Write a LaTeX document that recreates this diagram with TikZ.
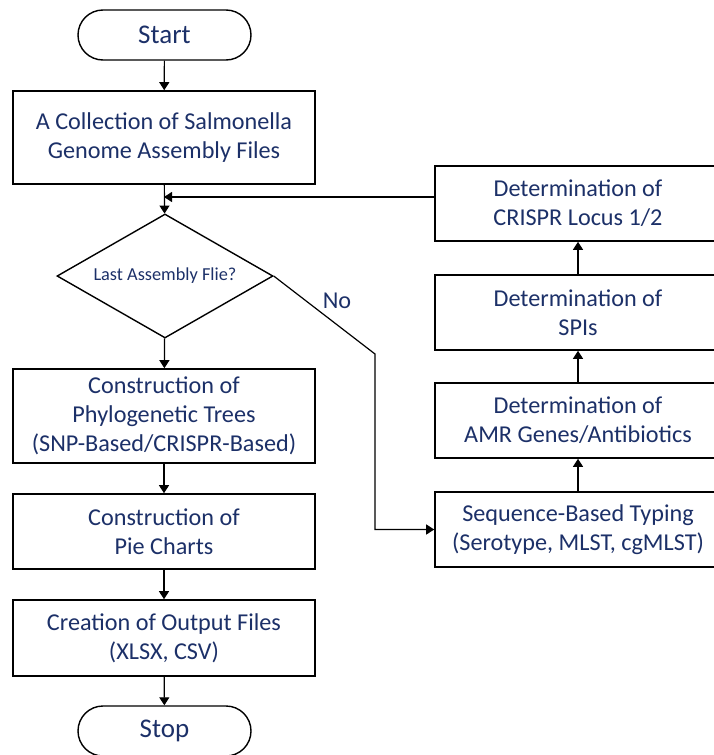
\documentclass[tikz,border=0pt]{standalone}
\usepackage{fontspec}
\setmainfont{Carlito}
\usetikzlibrary{arrows.meta,shapes.geometric}
\definecolor{txt}{RGB}{28,48,104}
\tikzset{
  box/.style={draw, line width=1.6pt, fill=white, text=txt, align=center, minimum width=302pt, inner sep=0pt,
     font=\fontsize{24.2}{29}\selectfont},
  rbox/.style={box, minimum width=286pt, minimum height=75pt},
  term/.style={draw, line width=1.4pt, rounded corners=25pt, text=txt, minimum width=173pt, minimum height=50pt,
     inner sep=0pt, font=\fontsize{27}{30}\selectfont},
  dec/.style={draw, diamond, line width=1.4pt, aspect=1.74, minimum width=216pt, minimum height=124pt,
     inner sep=0pt, text=txt, font=\fontsize{18.3}{22}\selectfont},
  conn/.style={line width=1.2pt},
  arr/.style={conn, -{Triangle[width=10pt,length=8pt]}}
}
\begin{document}
\begin{tikzpicture}[x=1pt,y=-1pt]
\useasboundingbox (0,0) rectangle (714,755);
\node[term] (start) at (164.5,35) {Start};
\node[box, minimum height=93pt] (coll) at (164,137.5) {A Collection of Salmonella\\Genome Assembly Files};
\node[dec] (dec) at (165,276) {Last Assembly Flie?};
\node[box, minimum height=94pt] (phylo) at (164,416) {Construction of\\Phylogenetic Trees\\(SNP-Based/CRISPR-Based)};
\node[box, minimum height=75pt] (pie) at (164,531.5) {Construction of\\Pie Charts};
\node[box, minimum height=76pt] (out) at (164,638) {Creation of Output Files\\(XLSX, CSV)};
\node[term] (stop) at (164.5,731) {Stop};
\node[rbox] (crispr) at (578,203.5) {Determination of\\CRISPR Locus 1/2};
\node[rbox] (spis) at (578,312.5) {Determination of\\SPIs};
\node[rbox] (amr) at (578,420.5) {Determination of\\AMR Genes/Antibiotics};
\node[rbox] (seq) at (578,529.5) {Sequence-Based Typing\\(Serotype, MLST, cgMLST)};
\node[text=txt, font=\fontsize{24.2}{29}\selectfont] (no) at (337,301) {No};
\coordinate (fb) at (164,197);
\coordinate (bend) at (375,354);
\draw[arr] (start) -- (coll);
\draw[arr] (coll) -- (dec);
\draw[arr] (dec) -- (phylo);
\draw[arr] (phylo) -- (pie);
\draw[arr] (pie) -- (out);
\draw[arr] (out) -- (stop);
\draw[arr] (seq) -- (amr);
\draw[arr] (amr) -- (spis);
\draw[arr] (spis) -- (crispr);
\draw[arr] (crispr.west |- fb) -- (fb);
\draw[arr] (dec.east) -- (bend) |- (seq.west);
\end{tikzpicture}
\end{document}
